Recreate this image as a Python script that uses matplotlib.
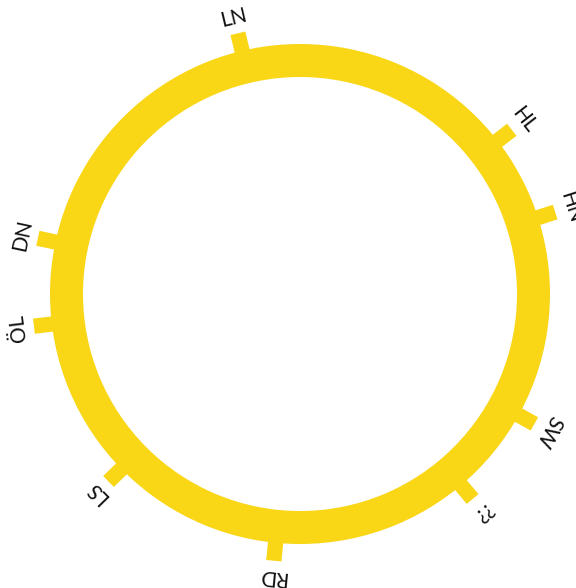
import numpy as np
import matplotlib
matplotlib.use("Agg")
import matplotlib.pyplot as plt
from matplotlib.patches import Wedge

labels = ["LN", "HL", "HN", "SW", "??", "RD", "LS", "ÖL", "DN"]
angles_deg = [346.6, 52.2, 72.2, 119.0, 139.9, 185.6, 225.6, 263.1, 282.0]  # clockwise from north

color = "#F9D616"
R_OUT, R_IN = 250, 217

fig = plt.figure(figsize=(5.76, 5.88), dpi=100)
ax = fig.add_axes([0, 0, 1, 1])
ax.set_xlim(-300, 276)
ax.set_ylim(-294, 294)
ax.set_aspect("equal")
ax.axis("off")

ax.add_patch(Wedge((0, 0), R_OUT, 0, 360, width=R_OUT - R_IN, facecolor=color, edgecolor="none"))

for lab, a in zip(labels, angles_deg):
    t = np.deg2rad(a)
    dx, dy = np.sin(t), np.cos(t)
    ax.plot([240 * dx, 268 * dx], [240 * dy, 268 * dy], color=color, lw=11, solid_capstyle="butt")
    ax.text(284 * dx, 284 * dy, lab, rotation=-a, rotation_mode="anchor",
            ha="center", va="center", fontsize=15, family="Lato", fontweight="normal",
            color="#111111")

fig.savefig("out.png", dpi=100)
